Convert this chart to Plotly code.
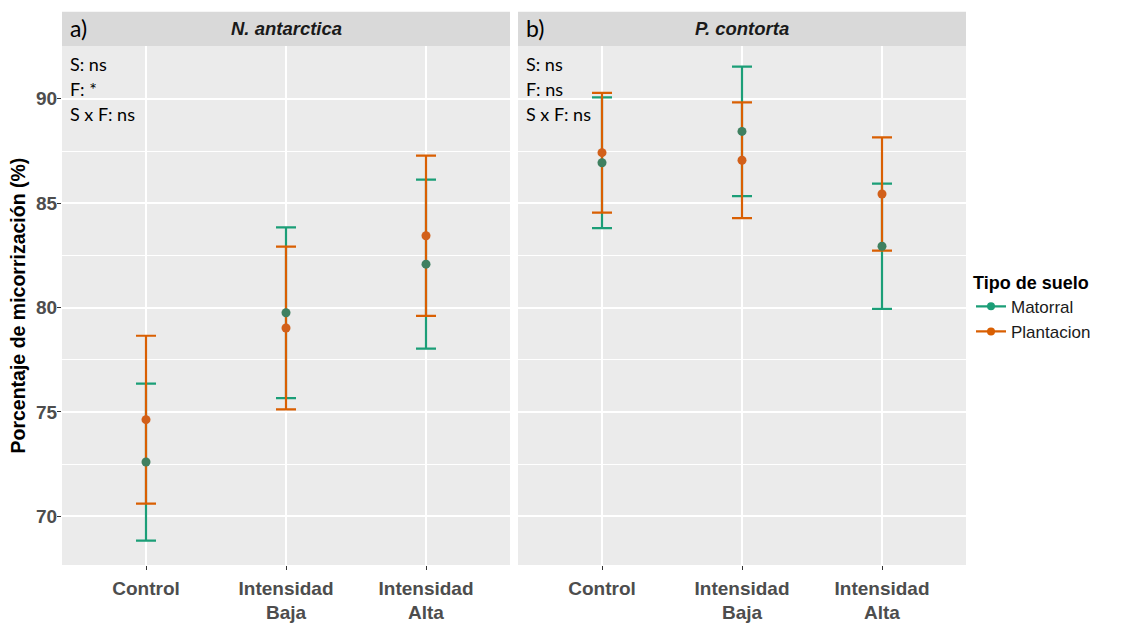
import plotly.graph_objects as go

# ---------------- data ----------------
categories = ["Control", "Intensidad Baja", "Intensidad Alta"]
tick_labels = ["Control", "Intensidad<br>Baja", "Intensidad<br>Alta"]
species = ["N. antarctica", "P. contorta"]
panel_tags = ["a)", "b)"]
series_names = ["Matorral", "Plantacion"]

# mean and symmetric error (half-width) per panel
nant_matorral_mean = [72.6, 79.75, 82.08]
nant_matorral_err = [3.76, 4.09, 4.05]
nant_plantacion_mean = [74.63, 79.02, 83.44]
nant_plantacion_err = [4.02, 3.90, 3.84]

pcon_matorral_mean = [86.94, 88.44, 82.94]
pcon_matorral_err = [3.13, 3.10, 3.0]
pcon_plantacion_mean = [87.42, 87.06, 85.44]
pcon_plantacion_err = [2.87, 2.77, 2.71]

stats_nant = ["S: ns", "F: *", "S x F: ns"]
stats_pcon = ["S: ns", "F: ns", "S x F: ns"]

y_ticks = [70, 75, 80, 85, 90]

# ---------------- styling ----------------
W, H = 1121, 623
COL_LINE = {"Matorral": "#1B9E77", "Plantacion": "#D95F02"}
COL_PT = {"Matorral": "#3F8060", "Plantacion": "#D2601A"}
FONT = "Liberation Sans, Arial, sans-serif"
ANN_FONT = "Lato, Carlito, sans-serif"

def px_x(p):
    return p / W

def px_y(p):
    return (H - p) / H

dom_left = [px_x(62), px_x(510)]
dom_right = [px_x(518), px_x(966)]
dom_y = [px_y(577), px_y(47)]
strip_y = [px_y(47), px_y(12)]

fig = go.Figure()

panels = [
    ("x", "y", nant_matorral_mean, nant_matorral_err, nant_plantacion_mean, nant_plantacion_err),
    ("x2", "y2", pcon_matorral_mean, pcon_matorral_err, pcon_plantacion_mean, pcon_plantacion_err),
]

# error bars first (Matorral under Plantacion), then points on top
for xa, ya, mm, me, pm, pe in panels:
    for name, mean, err in [("Matorral", mm, me), ("Plantacion", pm, pe)]:
        fig.add_trace(go.Scatter(
            x=categories, y=mean, xaxis=xa, yaxis=ya, mode="markers",
            marker=dict(size=1, opacity=0, color=COL_LINE[name]),
            error_y=dict(type="data", array=err, visible=True,
                         color=COL_LINE[name], thickness=2.2, width=10),
            showlegend=False, hoverinfo="skip"))
for xa, ya, mm, me, pm, pe in panels:
    for name, mean in [("Matorral", mm), ("Plantacion", pm)]:
        fig.add_trace(go.Scatter(
            x=categories, y=mean, xaxis=xa, yaxis=ya, mode="markers",
            marker=dict(size=9, color=COL_PT[name]),
            showlegend=False, hoverinfo="skip"))

# legend entries
for name in series_names:
    fig.add_trace(go.Scatter(
        x=[None], y=[None], mode="lines+markers", name=name,
        line=dict(color=COL_LINE[name], width=2.2),
        marker=dict(size=8, color=COL_LINE[name]), showlegend=True))

axis_common = dict(
    showline=False, zeroline=False, showgrid=True, gridcolor="white", gridwidth=1.8,
    ticks="outside", ticklen=4, tickwidth=1.1, tickcolor="#333333",
    tickfont=dict(family=FONT, size=19, color="#4D4D4D", weight="bold"),
)

xcommon = dict(axis_common, type="category", categoryorder="array",
               categoryarray=categories, tickvals=categories, ticktext=tick_labels,
               range=[-0.6, 2.6], fixedrange=True)
ycommon = dict(axis_common, range=[67.67, 92.53], tickvals=y_ticks,
               minor=dict(dtick=2.5, tick0=67.5, showgrid=True, gridcolor="white",
                          gridwidth=0.9, ticks=""))

fig.update_layout(
    width=W, height=H,
    margin=dict(l=0, r=0, t=0, b=0),
    paper_bgcolor="white", plot_bgcolor="#EBEBEB",
    xaxis=dict(xcommon, domain=dom_left, anchor="y", ticklabelstandoff=2),
    xaxis2=dict(xcommon, domain=dom_right, anchor="y2", ticklabelstandoff=2),
    yaxis=dict(ycommon, domain=dom_y, anchor="x", ticklabelstandoff=-4),
    yaxis2=dict(ycommon, domain=dom_y, anchor="x2", matches="y", showticklabels=False, ticks=""),
    legend=dict(
        x=px_x(971), y=px_y(271), xanchor="left", yanchor="top",
        title=dict(text="Tipo de suelo", font=dict(family=FONT, size=18, color="black", weight="bold")),
        font=dict(family=FONT, size=17, color="#1A1A1A"),
        bgcolor="rgba(0,0,0,0)", itemwidth=30, tracegroupgap=4,
    ),
    showlegend=True,
)

# strips and labels
annotations = []
shapes = []
for i, (xd, sp, tag, stats) in enumerate([(dom_left, species[0], panel_tags[0], stats_nant),
                                           (dom_right, species[1], panel_tags[1], stats_pcon)]):
    shapes.append(dict(type="rect", xref="paper", yref="paper",
                       x0=xd[0], x1=xd[1], y0=strip_y[0], y1=strip_y[1],
                       fillcolor="#D9D9D9", line=dict(width=0), layer="below"))
    annotations.append(dict(xref="paper", yref="paper", x=(xd[0] + xd[1]) / 2,
                            y=(strip_y[0] + strip_y[1]) / 2, text="<i>" + sp + "</i>",
                            showarrow=False, xanchor="center", yanchor="middle",
                            font=dict(family=FONT, size=18.5, color="#1A1A1A", weight="bold")))
    annotations.append(dict(xref="paper", yref="paper", x=xd[0] + px_x(6),
                            y=(strip_y[0] + strip_y[1]) / 2 + 0.002, text=tag,
                            showarrow=False, xanchor="left", yanchor="middle",
                            font=dict(family=ANN_FONT, size=23, color="black")))
    for j, s in enumerate(stats):
        annotations.append(dict(xref="paper", yref="paper", x=xd[0] + px_x(6),
                                y=px_y(65 + 25.5 * j), text=s,
                                showarrow=False, xanchor="left", yanchor="middle",
                                font=dict(family=ANN_FONT, size=18, color="black")))

annotations.append(dict(xref="paper", yref="paper", x=px_x(18), y=(dom_y[0] + dom_y[1]) / 2,
                        text="Porcentaje de micorrización (%)", textangle=-90,
                        showarrow=False, xanchor="center", yanchor="middle",
                        font=dict(family=FONT, size=19.5, color="black", weight="bold")))

fig.update_layout(annotations=annotations, shapes=shapes)

fig.write_html("out.html", config={"displayModeBar": False},
               post_script="document.body.style.margin='0';document.body.style.overflow='hidden';")
